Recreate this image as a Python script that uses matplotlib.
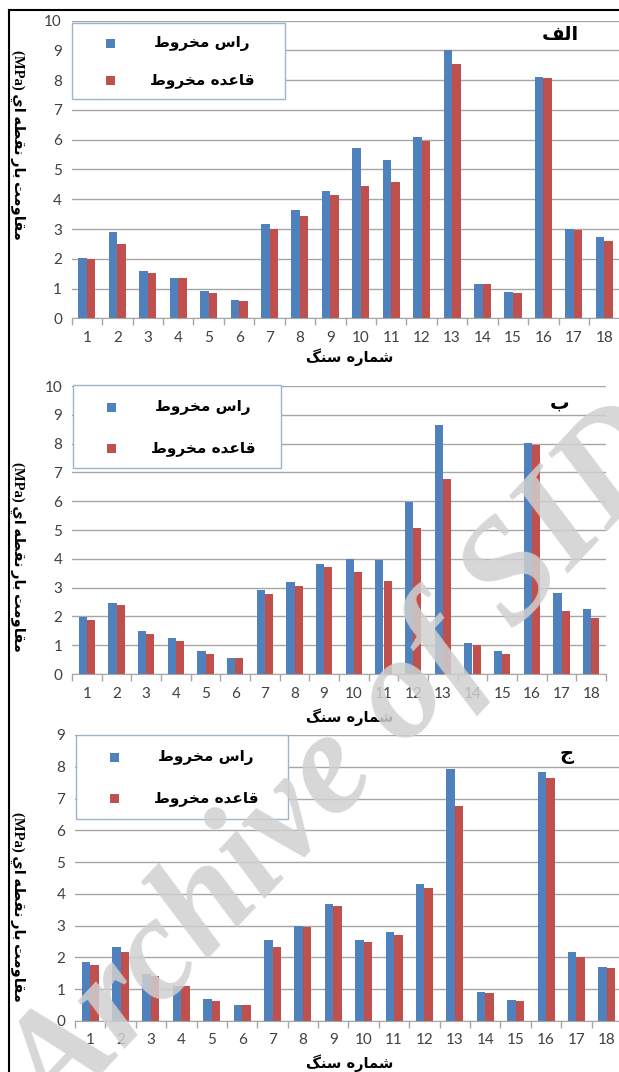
import numpy as np
import matplotlib
matplotlib.use("Agg")
import matplotlib.pyplot as plt
from matplotlib.patches import Rectangle
from matplotlib.lines import Line2D

# data (MPa)
stones = list(range(1, 19))
a_apex = [2.02, 2.89, 1.60, 1.34, 0.93, 0.62, 3.16, 3.64, 4.29, 5.73, 5.33, 6.09, 9.00, 1.15, 0.90, 8.10, 3.00, 2.73]
a_base = [1.98, 2.50, 1.51, 1.34, 0.85, 0.57, 3.00, 3.44, 4.14, 4.46, 4.57, 5.96, 8.54, 1.15, 0.84, 8.06, 2.96, 2.60]
b_apex = [1.99, 2.46, 1.50, 1.25, 0.79, 0.55, 2.91, 3.20, 3.83, 4.00, 3.97, 5.96, 8.66, 1.07, 0.81, 8.01, 2.82, 2.24]
b_base = [1.89, 2.40, 1.39, 1.15, 0.70, 0.55, 2.79, 3.07, 3.72, 3.55, 3.22, 5.08, 6.78, 0.99, 0.69, 7.96, 2.20, 1.94]
c_apex = [1.85, 2.33, 1.49, 1.09, 0.68, 0.51, 2.55, 2.99, 3.69, 2.55, 2.79, 4.32, 7.94, 0.91, 0.65, 7.83, 2.18, 1.70]
c_base = [1.77, 2.17, 1.41, 1.09, 0.64, 0.51, 2.33, 2.95, 3.63, 2.50, 2.71, 4.18, 6.76, 0.87, 0.62, 7.64, 2.01, 1.67]

series_names = ["راس مخروط", "قاعده مخروط"]
panel_names = ["الف", "ب", "ج"]
x_title = "شماره سنگ"
y_title = "مقاومت بار نقطه اي"
y_unit = "(MPa)"

BLUE = "#4F81BD"
RED = "#C0504D"
GRID = "#a6a6a6"

# matplotlib does no arabic shaping, so pick the presentation forms by hand
FORMS = {
    "ا": "\uFE8D\uFE8E", "د": "\uFEA9\uFEAA", "ر": "\uFEAD\uFEAE", "و": "\uFEED\uFEEE",
    "ب": "\uFE8F\uFE90\uFE91\uFE92", "ت": "\uFE95\uFE96\uFE97\uFE98",
    "ج": "\uFE9D\uFE9E\uFE9F\uFEA0", "خ": "\uFEA5\uFEA6\uFEA7\uFEA8",
    "س": "\uFEB1\uFEB2\uFEB3\uFEB4", "ش": "\uFEB5\uFEB6\uFEB7\uFEB8",
    "ط": "\uFEC1\uFEC2\uFEC3\uFEC4", "ع": "\uFEC9\uFECA\uFECB\uFECC",
    "ف": "\uFED1\uFED2\uFED3\uFED4", "ق": "\uFED5\uFED6\uFED7\uFED8",
    "ل": "\uFEDD\uFEDE\uFEDF\uFEE0", "م": "\uFEE1\uFEE2\uFEE3\uFEE4",
    "ن": "\uFEE5\uFEE6\uFEE7\uFEE8", "ه": "\uFEE9\uFEEA\uFEEB\uFEEC",
    "ي": "\uFEF1\uFEF2\uFEF3\uFEF4", "گ": "\uFB92\uFB93\uFB94\uFB95",
}


def rtl(s):
    out = []
    for i, c in enumerate(s):
        f = FORMS.get(c)
        if f is None:
            out.append(c)
            continue
        prev = s[i - 1] if i > 0 else ""
        nxt = s[i + 1] if i + 1 < len(s) else ""
        jp = prev in FORMS and len(FORMS[prev]) == 4
        jn = len(f) == 4 and nxt in FORMS
        if jp and jn:
            out.append(f[3])
        elif jp:
            out.append(f[1])
        elif jn:
            out.append(f[2])
        else:
            out.append(f[0])
    return "".join(out)[::-1]


plt.rcParams["font.family"] = ["Lato", "DejaVu Sans"]
AR = ["DejaVu Sans"]

W, H = 619, 1072
fig = plt.figure(figsize=(W / 100, H / 100), dpi=100)


def fx(x):
    return x / W


def fy(y):
    return 1 - y / H


panels = [
    # data, ymax, axes box (l, t, r, b) px, legend box, label pos, ylabel centre, xlabel y
    ((a_apex, a_base), 10, (71.7, 20.7, 619.5, 318.3), (72, 23, 285, 99), (560, 35), 145, 357),
    ((b_apex, b_base), 10, (72, 386, 606, 674), (73, 385, 281, 468), (560, 403), 557, 717),
    ((c_apex, c_base), 9, (75, 735, 622, 1021), (76, 735, 288, 819), (567, 755), 907, 1063),
]

x = np.array(stones)
w = 0.28
for k, ((apex, base), ymax, (l, t, r, b), lg, lab, yl, xl) in enumerate(panels):
    ax = fig.add_axes([fx(l), fy(b), (r - l) / W, (b - t) / H])
    ax.bar(x - w / 2, apex, w, color=BLUE, zorder=2)
    ax.bar(x + w / 2, base, w, color=RED, zorder=2)
    ax.set_xlim(0.5, 18.5)
    ax.set_ylim(0, ymax)
    ax.set_yticks(range(0, ymax + 1))
    ax.set_xticks(stones)
    ax.set_xticks(np.arange(0.5, 19, 1), minor=True)
    ax.yaxis.grid(True, color=GRID, lw=1.0)
    ax.set_axisbelow(True)
    for s in ["top", "right", "left"]:
        ax.spines[s].set_visible(False)
    ax.spines["bottom"].set_color(GRID)
    ax.tick_params(axis="x", which="major", length=0, pad=9, labelsize=11, labelcolor="#404040")
    ax.tick_params(axis="x", which="minor", length=5, color=GRID, width=1)
    ax.tick_params(axis="y", length=0, pad=7, labelsize=11, labelcolor="#404040")

    # legend box
    l0, t0, r0, b0 = lg
    fig.patches.append(Rectangle((fx(l0), fy(b0)), (r0 - l0) / W, (b0 - t0) / H,
                                 transform=fig.transFigure, fc="white", ec="#9db3cf", lw=1, zorder=3))
    rows = [t0 + (b0 - t0) * 0.27, t0 + (b0 - t0) * 0.76]
    for name, col, yy in zip(series_names, [BLUE, RED], rows):
        fig.patches.append(Rectangle((fx(l0 + 34), fy(yy + 4.5)), 9 / W, 9 / H,
                                     transform=fig.transFigure, fc=col, ec="none", zorder=4))
        fig.text(fx(l0 + 130), fy(yy), rtl(name), family=AR, fontsize=11, fontweight="bold",
                 ha="center", va="center", zorder=4)

    fig.text(fx(lab[0]), fy(lab[1]), rtl(panel_names[k]),
             family=AR, fontsize=14, fontweight="bold", ha="center", va="center")
    fig.text(fx(18), fy(yl), y_unit + " " + rtl(y_title), family=["Liberation Serif", "DejaVu Sans"],
             fontsize=10.5, fontweight="bold", rotation=270, ha="center", va="center")
    fig.text(fx(350), fy(xl), rtl(x_title), family=AR, fontsize=10.5, fontweight="bold",
             ha="center", va="center")

# outer frame of the scanned figure
fig.add_artist(Line2D([fx(9), fx(9)], [fy(10), 0], color="black", lw=1.5, transform=fig.transFigure))
fig.add_artist(Line2D([fx(9), 1], [fy(10), fy(10)], color="black", lw=1.5, transform=fig.transFigure))

# watermark
fig.text(fx(345), fy(768), "Archive of SID", family="Liberation Serif", style="italic", fontweight="bold",
         fontsize=106, color="#d0d0d0", alpha=0.85, rotation=47, rotation_mode="anchor",
         ha="center", va="center", zorder=10)

fig.savefig("out.png", dpi=100, facecolor="white")
